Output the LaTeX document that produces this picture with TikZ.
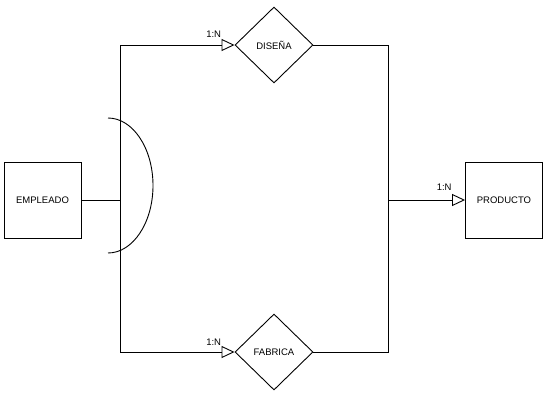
\documentclass[tikz,border=0pt]{standalone}
\usepackage{fontspec}
\setmainfont{Liberation Sans}
\usetikzlibrary{arrows.meta,positioning,shapes.geometric}

\begin{document}
\begin{tikzpicture}[x=1pt,y=-1pt,line width=0.9pt,
    every node/.style={font=\fontsize{9.5}{11}\selectfont},
    entidad/.style={draw,minimum width=77pt,minimum height=76pt,inner sep=0pt},
    relacion/.style={draw,diamond,minimum width=78pt,minimum height=76pt,inner sep=0pt},
    card/.style={-{Triangle[open,length=13pt,width=12pt]}},
    cardlbl/.style={inner sep=0pt}]
        \useasboundingbox[fill=white] (0,0) rectangle (550,400);
        % entidades
        \node[entidad] (emp) at (42.5,200) {EMPLEADO};
        \node[entidad] (prod) at (504,200) {PRODUCTO};
        % relaciones
        \node[relacion] (dis) at (274,45) {DISEÑA};
        \node[relacion] (fab) at (274,352) {FABRICA};
        % puntos de las lineas
        \coordinate (lt) at (120,45);
        \coordinate (lb) at (120,352);
        \coordinate (rt) at (388,45);
        \coordinate (rb) at (388,352);
        \coordinate (rm) at (388,200);
        \draw (lt) -- (lb);
        \draw (emp.east) -- (emp.east -| lt);
        \draw (108,118) arc[start angle=-90,end angle=90,x radius=45,y radius=67.5];
        \draw[card] (lt) -- (dis.west);
        \draw[card] (lb) -- (fab.west);
        \draw (dis.east) -- (rt) -- (rb) -- (fab.east);
        \draw[card] (rm) -- (prod.west);
        % cardinalidades
        \node[cardlbl,above left=7pt and 13pt of dis.west] (c1) {1:N};
        \node[cardlbl,above left=6pt and 13pt of fab.west] (c2) {1:N};
        \node[cardlbl,above left=9pt and 13pt of prod.west] (c3) {1:N};
\end{tikzpicture}
\end{document}
